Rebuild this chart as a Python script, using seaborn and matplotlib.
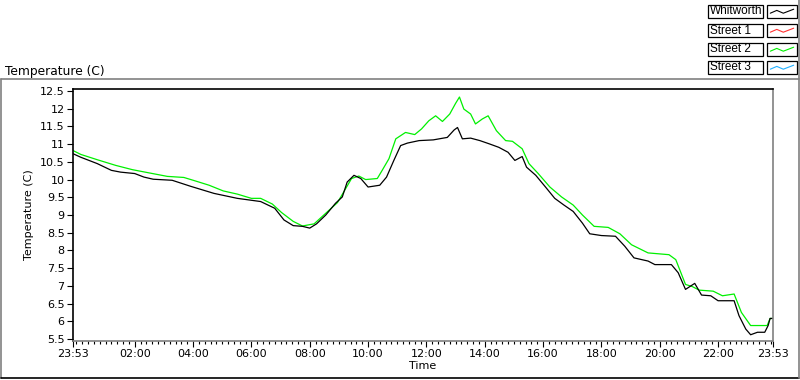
import pandas as pd
import numpy as np
import matplotlib
matplotlib.use("Agg")
import matplotlib.pyplot as plt
import seaborn as sns
from matplotlib.patches import Rectangle
from matplotlib.lines import Line2D

# minutes since 23:53 (start of the day window) and temperatures
whit_min = [0, 16, 50, 79, 98, 127, 146, 165, 204, 242, 290, 338, 386, 415, 434,
            453, 472, 487, 501, 520, 540, 554, 564, 578, 592, 607, 631, 645, 660,
            674, 688, 712, 741, 770, 784, 791, 801, 818, 837, 856, 876, 895, 909,
            924, 933, 952, 972, 991, 1010, 1029, 1048, 1063, 1087, 1116, 1135,
            1154, 1183, 1197, 1231, 1245, 1260, 1279, 1293, 1312, 1327, 1360,
            1370, 1384, 1394, 1408, 1423, 1430, 1434, 1440]
whit_temp = [10.73, 10.63, 10.45, 10.26, 10.21, 10.17, 10.07, 10.01, 9.98, 9.81,
             9.61, 9.47, 9.38, 9.19, 8.86, 8.70, 8.68, 8.63, 8.75, 9.00, 9.33,
             9.51, 9.93, 10.12, 10.03, 9.79, 9.84, 10.07, 10.54, 10.96, 11.03,
             11.10, 11.12, 11.19, 11.40, 11.47, 11.15, 11.17, 11.10, 11.01, 10.91,
             10.77, 10.54, 10.65, 10.35, 10.12, 9.79, 9.47, 9.28, 9.10, 8.77,
             8.47, 8.42, 8.40, 8.12, 7.79, 7.70, 7.60, 7.60, 7.37, 6.90, 7.07,
             6.74, 6.72, 6.58, 6.58, 6.16, 5.78, 5.62, 5.69, 5.69, 5.88, 6.08, 6.08]

st2_min = [0, 16, 50, 88, 122, 156, 194, 228, 252, 280, 309, 338, 367, 386, 410,
           429, 453, 472, 496, 520, 544, 559, 573, 588, 602, 626, 636, 650, 664,
           684, 703, 717, 732, 746, 760, 775, 787, 795, 804, 818, 828, 842, 854,
           871, 890, 904, 924, 938, 957, 981, 1005, 1029, 1048, 1072, 1101, 1125,
           1149, 1183, 1226, 1240, 1260, 1274, 1288, 1317, 1336, 1360, 1375,
           1394, 1428, 1434, 1440]
st2_temp = [10.82, 10.71, 10.56, 10.40, 10.28, 10.19, 10.09, 10.06, 9.96, 9.84,
            9.68, 9.59, 9.47, 9.47, 9.31, 9.07, 8.82, 8.69, 8.75, 9.05, 9.35,
            9.70, 10.03, 10.10, 10.00, 10.03, 10.26, 10.59, 11.15, 11.33, 11.27,
            11.43, 11.66, 11.80, 11.64, 11.85, 12.15, 12.33, 11.99, 11.85, 11.57,
            11.71, 11.80, 11.38, 11.10, 11.08, 10.87, 10.45, 10.17, 9.79, 9.51,
            9.28, 9.00, 8.68, 8.65, 8.47, 8.16, 7.93, 7.88, 7.74, 7.04, 6.98,
            6.88, 6.85, 6.72, 6.77, 6.25, 5.88, 5.88, 6.08, 6.08]

tick_min = [0, 127, 247, 367, 487, 607, 727, 847, 967, 1087, 1207, 1327, 1440]
tick_lab = ["23:53", "02:00", "04:00", "06:00", "08:00", "10:00", "12:00",
            "14:00", "16:00", "18:00", "20:00", "22:00", "23:53"]
y_ticks = [5.5, 6, 6.5, 7, 7.5, 8, 8.5, 9, 9.5, 10, 10.5, 11, 11.5, 12, 12.5]

legend_names = ["Whitworth", "Street 1", "Street 2", "Street 3"]
legend_colors = ["#000000", "#ff3030", "#00f000", "#20b0ff"]

df = pd.concat([
    pd.DataFrame({"min": whit_min, "temp": whit_temp, "series": "Whitworth"}),
    pd.DataFrame({"min": st2_min, "temp": st2_temp, "series": "Street 2"}),
])

sns.set_style("white")
plt.rcParams['font.family'] = ['DejaVu Sans']
plt.rcParams['font.size'] = 8
plt.rcParams['text.color'] = 'black'
plt.rcParams['axes.labelcolor'] = 'black'
plt.rcParams['xtick.color'] = 'black'
plt.rcParams['ytick.color'] = 'black'

fig = plt.figure(figsize=(8, 3.8), dpi=100)
ax = fig.add_axes([73 / 800, 1 - 341 / 380, 700 / 800, 252 / 380])

sns.lineplot(data=df, x="min", y="temp", hue="series",
             hue_order=["Street 2", "Whitworth"],
             palette={"Whitworth": "#000000", "Street 2": "#00f000"},
             linewidth=0.9, legend=False, ax=ax, sort=False)

ax.set_xlim(0, 1440)
ax.set_ylim(5.5 - 2 / 35.4, 12.5 + 2 / 35.4)
ax.set_xticks(tick_min)
ax.set_xticklabels(tick_lab)
ax.set_xticks(np.arange(7, 1440, 12), minor=True)
ax.set_yticks(y_ticks)
ax.set_yticklabels([f"{v:g}" for v in y_ticks])
ax.tick_params(axis="both", which="major", direction="out", length=4,
               width=0.8, color="black", labelsize=8, pad=2)
ax.tick_params(axis="x", which="minor", direction="out", length=2.5,
               width=0.8, color="black", bottom=True)
ax.tick_params(axis="x", bottom=True)
ax.tick_params(axis="y", left=True)
ax.set_xlabel("Time", fontsize=8, labelpad=1)
ax.set_ylabel("Temperature (C)", fontsize=8, labelpad=4)

for side, col in [("left", "black"), ("top", "black"), ("right", "#808080"), ("bottom", "#808080")]:
    ax.spines[side].set_visible(True)
    ax.spines[side].set_color(col)
    ax.spines[side].set_linewidth(1.2)

# outer panel frame
W, H = 800, 380
def fx(px):
    return px / W
def fy(py):
    return 1 - py / H

fig.add_artist(Line2D([fx(1), fx(799)], [fy(79), fy(79)], color="#808080", lw=1.2))
fig.add_artist(Line2D([fx(1), fx(1)], [fy(79), fy(378)], color="#808080", lw=1.2))
fig.add_artist(Line2D([fx(1), fx(799)], [fy(378), fy(378)], color="black", lw=1.2))
fig.add_artist(Line2D([fx(799), fx(799)], [fy(0), fy(378)], color="#808080", lw=1.2))

fig.text(fx(5), fy(75), "Temperature (C)", fontsize=8.8, va="baseline", ha="left")

# legend drawn as LabVIEW-style boxes
rows = [5, 24, 43, 61]
zig_x = [0.05, 0.3, 0.55, 0.75, 0.95]
zig_y = [0.35, 0.7, 0.35, 0.6, 0.85]
for name, col, top in zip(legend_names, legend_colors, rows):
    fig.add_artist(Rectangle((fx(708), fy(top + 13)), 55 / W, 13 / H,
                             transform=fig.transFigure, fill=False,
                             edgecolor="black", lw=0.9))
    fig.text(fx(710), fy(top + 6.5), name, fontsize=8.5, va="center", ha="left",
             family=["Liberation Sans"])
    fig.add_artist(Rectangle((fx(767), fy(top + 13)), 30 / W, 13 / H,
                             transform=fig.transFigure, fill=False,
                             edgecolor="black", lw=0.9))
    fig.add_artist(Line2D([fx(769 + 26 * zx) for zx in zig_x],
                          [fy(top + 11 - 8 * zy) for zy in zig_y],
                          color=col, lw=0.8))

fig.savefig("out.png", dpi=100, facecolor="white")
